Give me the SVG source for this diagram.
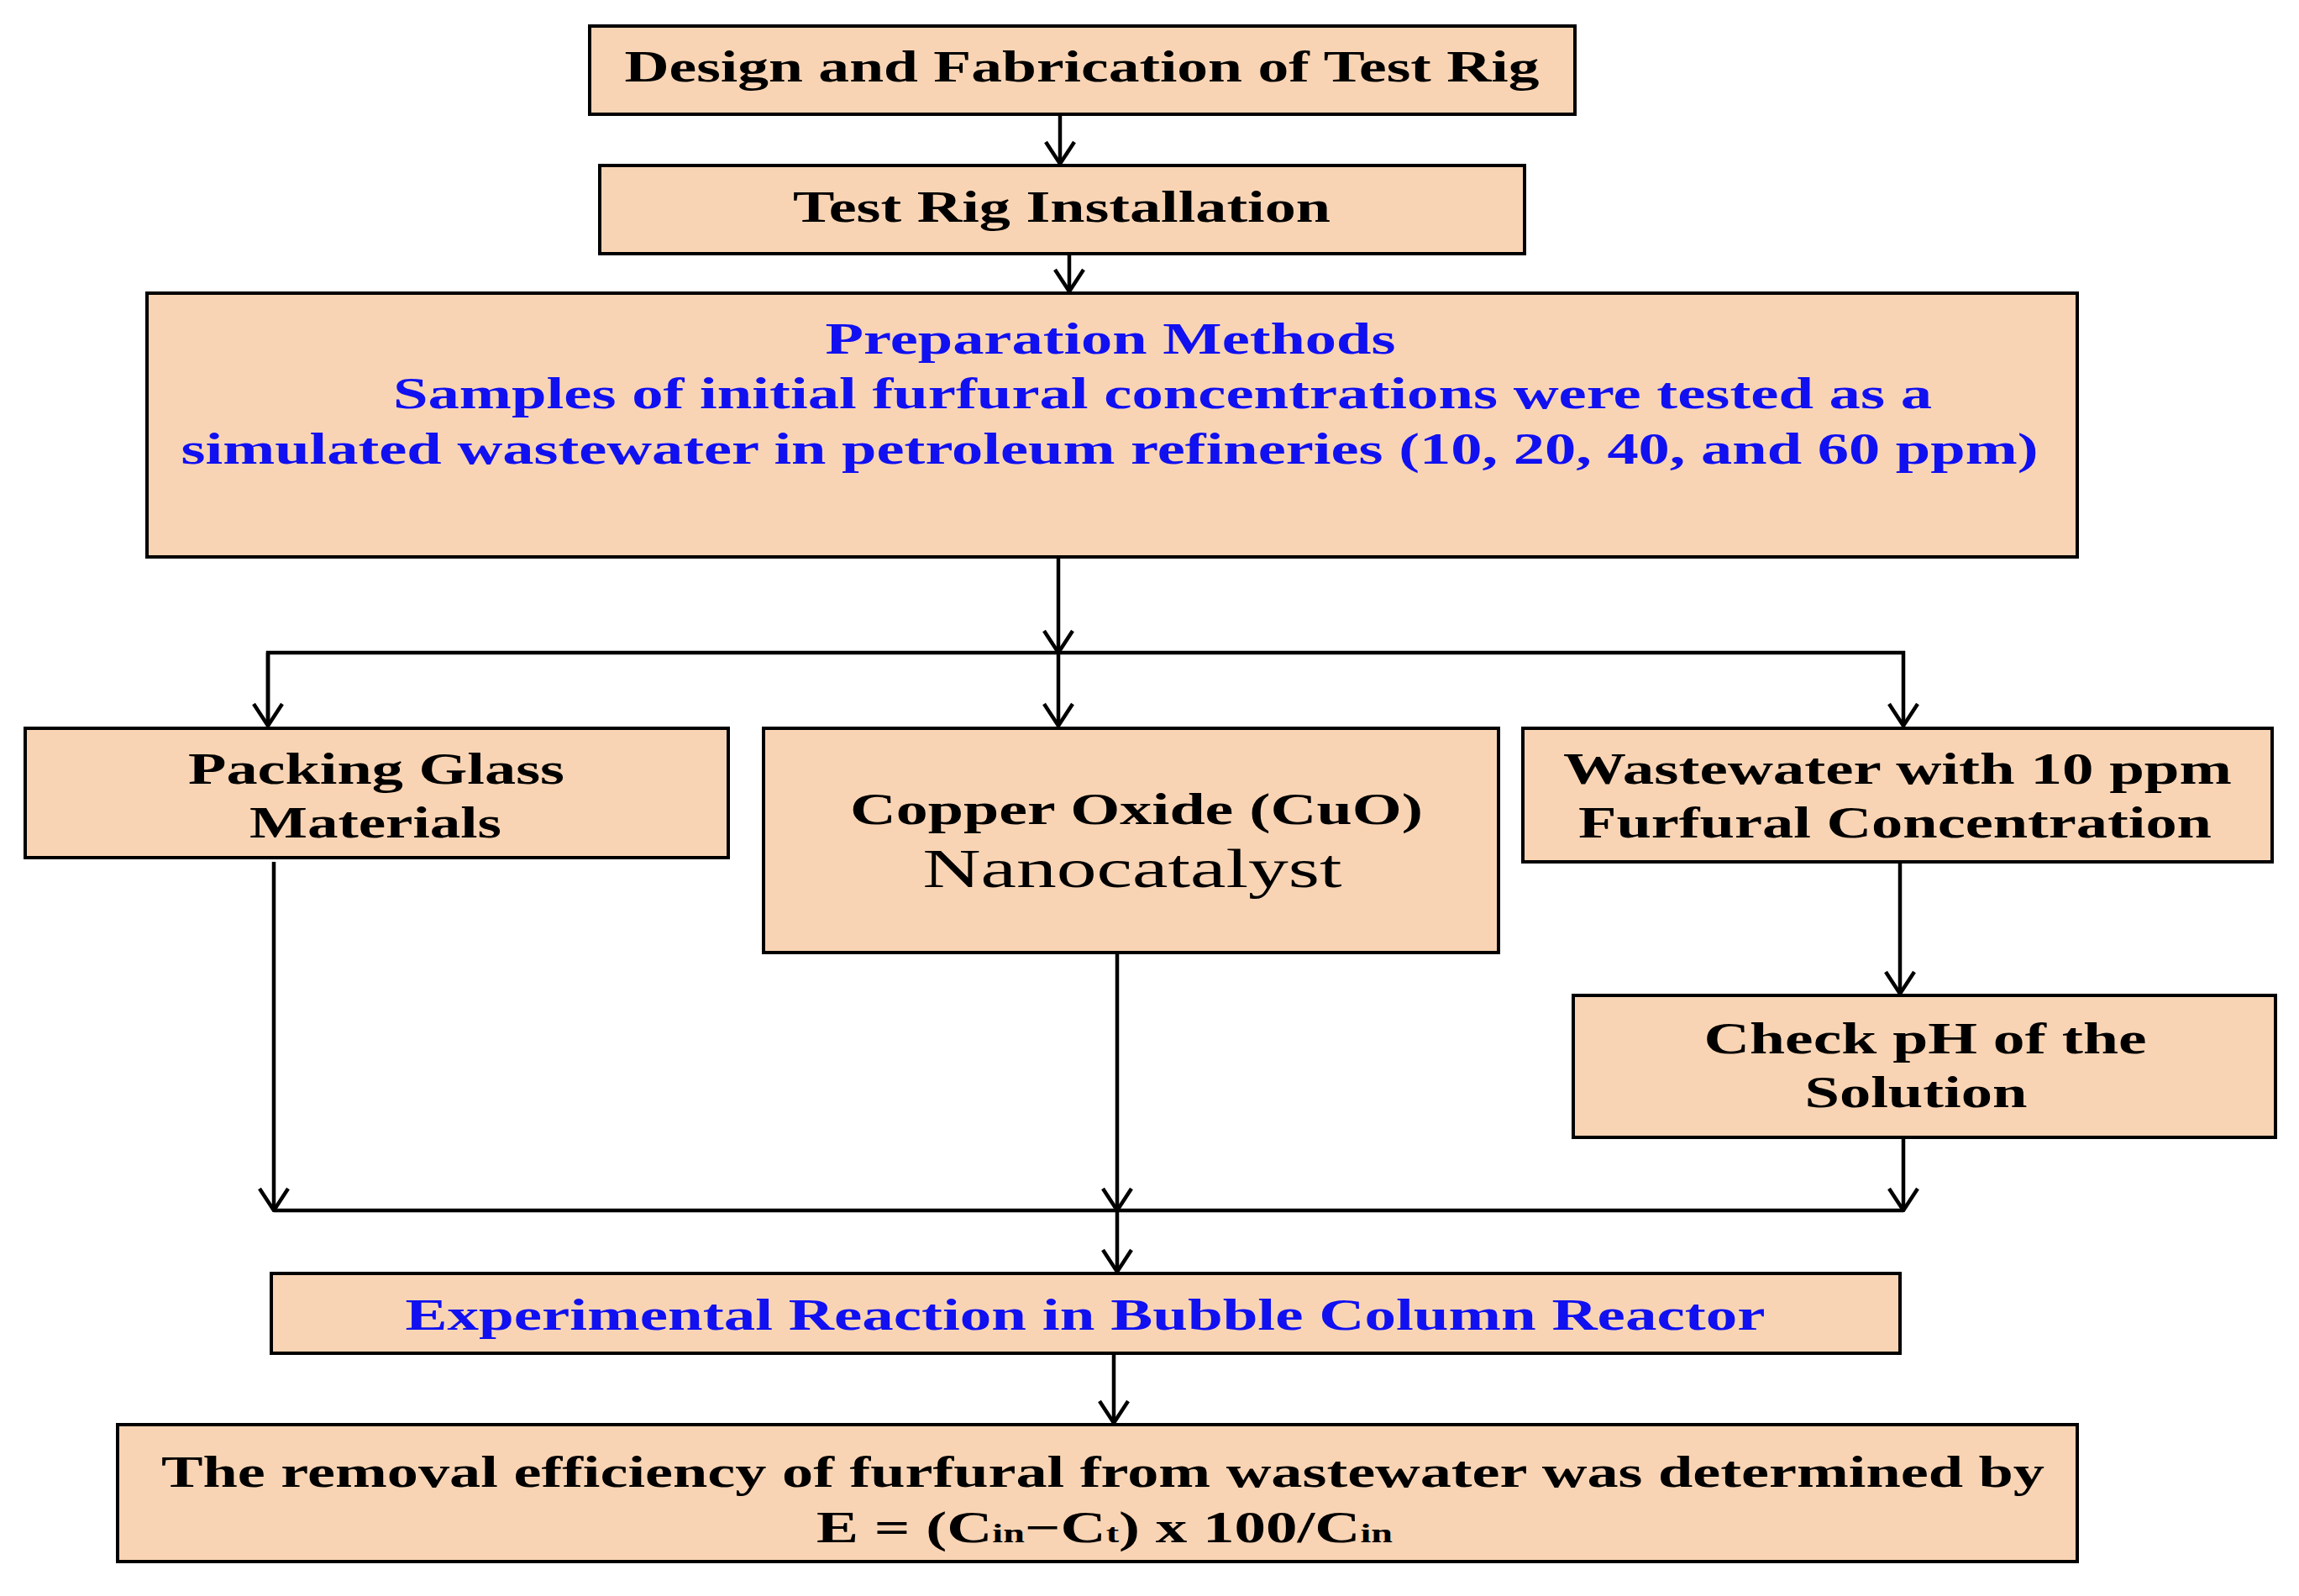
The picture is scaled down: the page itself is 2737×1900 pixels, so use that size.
<svg xmlns="http://www.w3.org/2000/svg" width="2737" height="1900" viewBox="0 0 2737 1900">
<style>
.b{fill:#F9D4B4;stroke:#000;stroke-width:4}
.t{font-family:"Liberation Serif",serif;font-weight:bold;font-size:52px;text-anchor:middle;fill:#000}
.bl{fill:#1010F0}
.c{fill:none;stroke:#000;stroke-width:4.5}
</style>
<defs>
<marker id="a" viewBox="0 0 30 40" refX="28" refY="20" markerWidth="30" markerHeight="40" markerUnits="userSpaceOnUse" orient="auto">
<polyline points="2,3 28,20 2,37" fill="none" stroke="#000" stroke-width="4.5"/>
</marker>
</defs>
<g id="n1"><rect class="b" x="702" y="31" width="1173" height="105"/><text class="t" x="1288" y="97" textLength="1089" lengthAdjust="spacingAndGlyphs">Design and Fabrication of Test Rig</text></g>
<g id="n2"><rect class="b" x="714" y="197" width="1101" height="105"/><text class="t" x="1264" y="264" textLength="640" lengthAdjust="spacingAndGlyphs">Test Rig Installation</text></g>
<g id="n3"><rect class="b" x="175" y="349" width="2298" height="314"/>
<text class="t bl" x="1322" y="421" textLength="679" lengthAdjust="spacingAndGlyphs">Preparation Methods</text>
<text class="t bl" x="1384" y="486" textLength="1832" lengthAdjust="spacingAndGlyphs">Samples of initial furfural concentrations were tested as a</text>
<text class="t bl" x="1321" y="552" textLength="2211" lengthAdjust="spacingAndGlyphs">simulated wastewater in petroleum refineries (10, 20, 40, and 60 ppm)</text></g>
<g id="n4"><rect class="b" x="30" y="867" width="837" height="154"/>
<text class="t" x="448" y="933" textLength="448" lengthAdjust="spacingAndGlyphs">Packing Glass</text>
<text class="t" x="447" y="997" textLength="300" lengthAdjust="spacingAndGlyphs">Materials</text></g>
<g id="n5"><rect class="b" x="909" y="867" width="875" height="267"/>
<text class="t" x="1353" y="981" textLength="682" lengthAdjust="spacingAndGlyphs">Copper Oxide (CuO)</text>
<text class="t" x="1348" y="1056" style="font-weight:normal;font-size:66px" textLength="499" lengthAdjust="spacingAndGlyphs">Nanocatalyst</text></g>
<g id="n6"><rect class="b" x="1813" y="867" width="892" height="159"/>
<text class="t" x="2259" y="933" textLength="796" lengthAdjust="spacingAndGlyphs">Wastewater with 10 ppm</text>
<text class="t" x="2256" y="997" textLength="754" lengthAdjust="spacingAndGlyphs">Furfural Concentration</text></g>
<g id="n7"><rect class="b" x="1873" y="1185" width="836" height="169"/>
<text class="t" x="2292" y="1254" textLength="527" lengthAdjust="spacingAndGlyphs">Check pH of the</text>
<text class="t" x="2281" y="1318" textLength="265" lengthAdjust="spacingAndGlyphs">Solution</text></g>
<g id="n8"><rect class="b" x="323" y="1516" width="1939" height="95"/>
<text class="t bl" x="1292" y="1583" textLength="1619" lengthAdjust="spacingAndGlyphs">Experimental Reaction in Bubble Column Reactor</text></g>
<g id="n9"><rect class="b" x="140" y="1696" width="2333" height="163"/>
<text class="t" x="1313" y="1770" textLength="2242" lengthAdjust="spacingAndGlyphs">The removal efficiency of furfural from wastewater was determined by</text>
<text class="t" x="1315" y="1836" textLength="686" lengthAdjust="spacingAndGlyphs">E = (C<tspan font-size="32">in</tspan>−C<tspan font-size="32">t</tspan>) x 100/C<tspan font-size="32">in</tspan></text></g>
<g id="connectors">
<line class="c" x1="1262" y1="136" x2="1262" y2="195" marker-end="url(#a)"/>
<line class="c" x1="1273" y1="302" x2="1273" y2="347" marker-end="url(#a)"/>
<line class="c" x1="1260" y1="663" x2="1260" y2="777" marker-end="url(#a)"/>
<polyline class="c" points="319,864 319,777 2266,777 2266,864" marker-end="url(#a)"/>
<line class="c" x1="319" y1="777" x2="319" y2="864" marker-end="url(#a)"/>
<line class="c" x1="1260" y1="777" x2="1260" y2="864" marker-end="url(#a)"/>
<line class="c" x1="2262" y1="1026" x2="2262" y2="1183" marker-end="url(#a)"/>
<line class="c" x1="326" y1="1026" x2="326" y2="1441" marker-end="url(#a)"/>
<line class="c" x1="1330" y1="1134" x2="1330" y2="1441" marker-end="url(#a)"/>
<line class="c" x1="2266" y1="1354" x2="2266" y2="1441" marker-end="url(#a)"/>
<line class="c" x1="326" y1="1441" x2="2266" y2="1441"/>
<line class="c" x1="1330" y1="1441" x2="1330" y2="1514" marker-end="url(#a)"/>
<line class="c" x1="1326" y1="1611" x2="1326" y2="1694" marker-end="url(#a)"/>
</g>
</svg>
